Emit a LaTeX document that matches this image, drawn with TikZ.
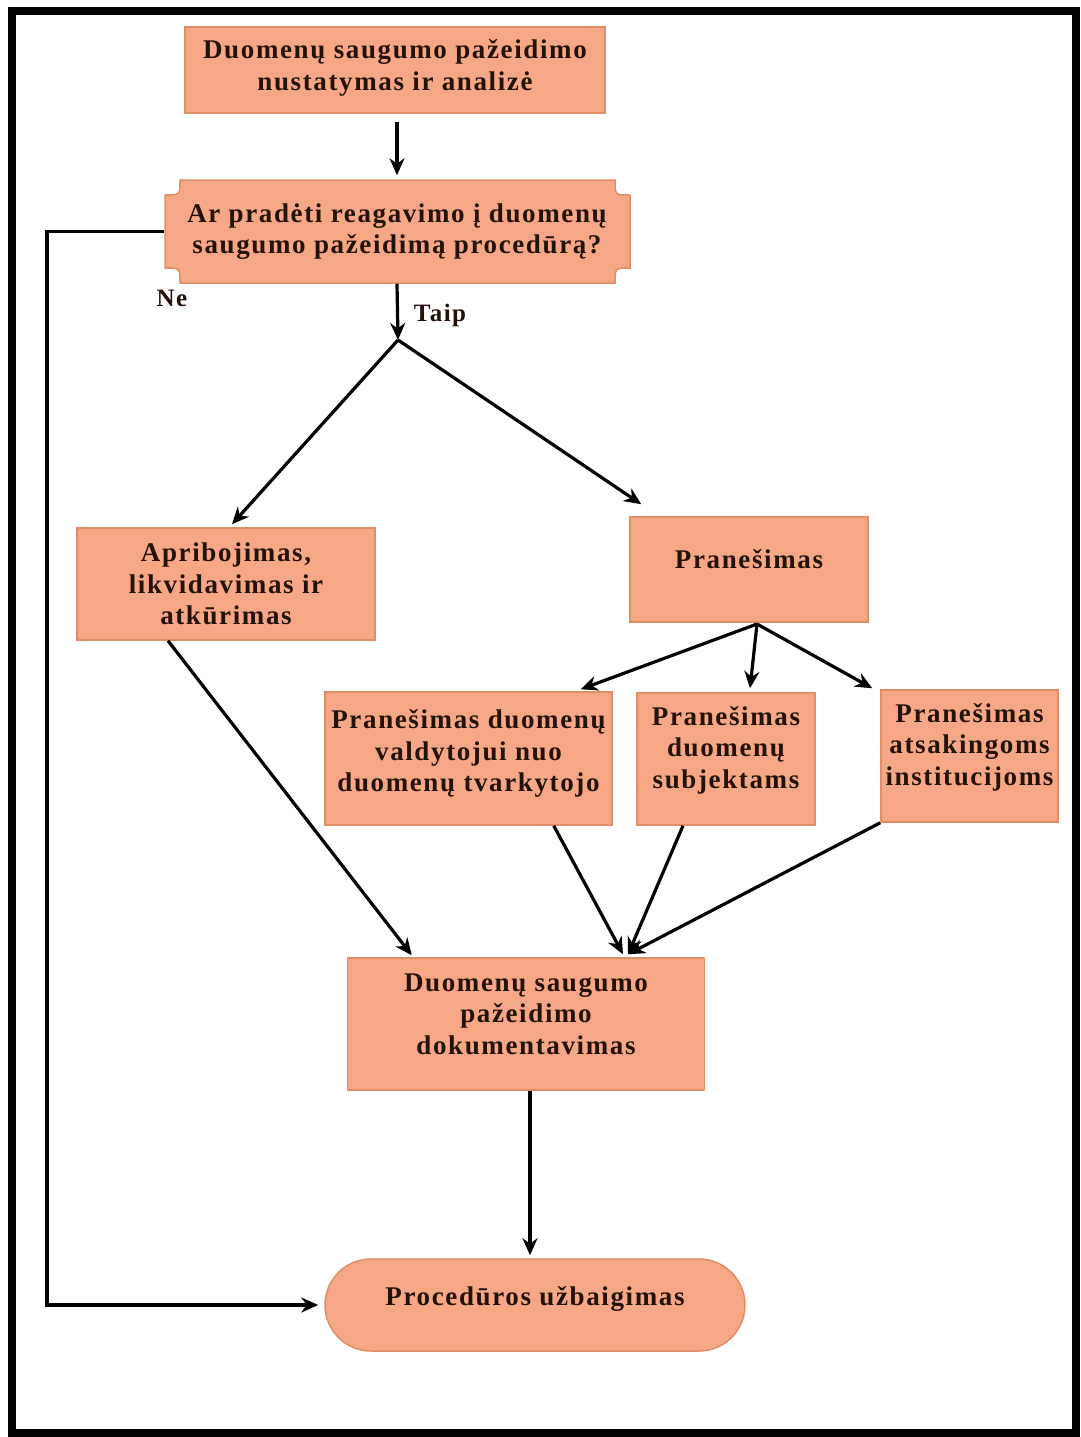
\documentclass[tikz,border=0pt]{standalone}
\usepackage{fontspec}
\setmainfont{Liberation Serif}
\newfontfamily\boxfont{Liberation Serif}[LetterSpace=6]
\usetikzlibrary{arrows.meta,calc}
\definecolor{boxfill}{RGB}{246,168,134}
\definecolor{boxline}{RGB}{224,142,104}
\definecolor{txt}{RGB}{36,18,8}
\newcommand{\dn}[1]{\rule[-#1pt]{0pt}{#1pt}}
\tikzset{
  box/.style={draw=boxline, line width=1.5pt, fill=boxfill, align=center,
    font=\boxfont\bfseries\fontsize{27}{31.5}\selectfont, text=txt, inner sep=0pt},
  conn/.style={line width=3.2pt, -{Stealth[length=17pt,width=15pt]}},
  lbl/.style={font=\boxfont\bfseries\fontsize{25}{28}\selectfont, text=txt},
}
\begin{document}
\begin{tikzpicture}[x=1pt,y=-1pt]
\useasboundingbox (0,0) rectangle (1081,1437);
\draw[line width=8pt] (11.5,11.5) rectangle (1076,1433);

% nodes
\node[box, minimum width=420pt, minimum height=86pt] (top) at (395,70)
  {Duomenų saugumo pažeidimo\\nustatymas ir analizė\dn{10}};

\filldraw[fill=boxfill, draw=boxline, line width=1.5pt]
  (180,180) -- (615,180) .. controls (615,195) .. (630,195)
  -- (630,268) .. controls (615,268) .. (615,283)
  -- (180,283) .. controls (180,268) .. (165,268)
  -- (165,195) .. controls (180,195) .. (180,180) -- cycle;
\node[box, draw=none, fill=none, minimum width=465pt, minimum height=103pt] (dec) at (397,231.5)
  {Ar pradėti reagavimo į duomenų\\saugumo pažeidimą procedūrą?};

\node[box, minimum width=298pt, minimum height=112pt] (lim) at (226,584)
  {Apribojimas,\\likvidavimas ir\\atkūrimas};
\node[box, minimum width=238pt, minimum height=105pt] (pran) at (749,569.5)
  {Pranešimas\dn{22}};

\node[box, minimum width=287pt, minimum height=133pt] (p1) at (468.5,758.5)
  {Pranešimas duomenų\\valdytojui nuo\\duomenų tvarkytojo\dn{16}};
\node[box, minimum width=178pt, minimum height=132pt] (p2) at (726,759)
  {Pranešimas\\duomenų\\subjektams\dn{24}};
\node[box, minimum width=177pt, minimum height=132pt] (p3) at (969.5,756)
  {Pranešimas\\atsakingoms\\institucijoms\dn{24}};

\node[box, minimum width=357pt, minimum height=132pt] (doc) at (526,1024)
  {Duomenų saugumo\\pažeidimo\\dokumentavimas\dn{20}};

\node[box, rounded corners=46pt, minimum width=420pt, minimum height=92pt] (end) at (535,1305)
  {Procedūros užbaigimas\dn{18}};

% labels
\node[lbl] (ne) at (172,298) {Ne};
\node[lbl] (taip) at (440,315) {Taip};

% coordinates
\coordinate (br1) at (398,340);
\coordinate (br2) at (757,624);
\coordinate (neturn) at (47,231.5);

% connectors
\draw[conn] ($(dec.north |- top.south)+(0,8)$) -- ($(dec.north)+(0,-4)$);
\draw[conn] (dec.west) -- (neturn) |- ($(end.west)+(-6,0)$);
\draw[conn] (dec.south) -- (br1);
\draw[conn] (br1) -- ($(lim.north)+(6,-3)$);
\draw[conn] (br1) -- ($(pran.north west)+(12,-12)$);

\draw[conn] (br2) -- ($(p1.north east)+(-32,-2)$);
\draw[conn] (br2) -- ($(p2.north)+(24,-4)$);
\draw[conn] (br2) -- ($(p3.north west)+(-8,-1)$);

\draw[conn] ($(lim.south)+(-58,0)$) -- ($(doc.north west)+(65,-2)$);
\draw[conn] ($(p1.south east)+(-59,0)$) -- ($(doc.north)+(97,-3)$);
\draw[conn] ($(p2.south)+(-43,0)$) -- ($(doc.north)+(102,-3)$);
\draw[conn] (p3.south west) -- ($(doc.north)+(102,-3)$);

\draw[conn] ($(doc.south)+(4,0)$) -- ($(end.north)+(-5,-3)$);
\end{tikzpicture}
\end{document}
